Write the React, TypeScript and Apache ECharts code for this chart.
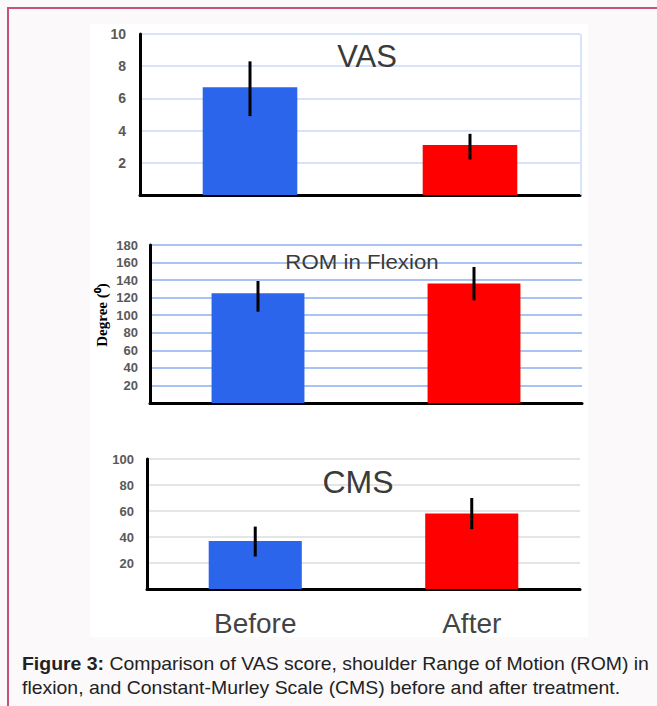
import React, { useEffect, useRef } from "react";
import * as echarts from "echarts";

const categories = ["Before", "After"];

const vasMean = [6.7, 3.1];
const vasLow = [4.9, 2.2];
const vasHigh = [8.3, 3.8];
const vasTicks = ["2", "4", "6", "8", "10"];

const romMean = [125, 136];
const romLow = [104, 117];
const romHigh = [139, 155];
const romTicks = ["20", "40", "60", "80", "100", "120", "140", "160", "180"];

const cmsMean = [37, 58];
const cmsLow = [25, 46];
const cmsHigh = [48, 70];
const cmsTicks = ["20", "40", "60", "80", "100"];

const barColors = ["#2b65ec", "#ff0000"];

const captionLine1Bold = "Figure 3:";
const captionLine1 = " Comparison of VAS score, shoulder Range of Motion (ROM) in";
const captionLine2 = "flexion, and Constant-Murley Scale (CMS) before and after treatment.";

export default function App() {
  const ref = useRef<HTMLDivElement>(null);
  useEffect(() => {
    if (!ref.current) return;
    const chart = echarts.init(ref.current, null, { renderer: "svg" });

    const grids = [
      { left: 140, right: 77, top: 34, bottom: 511 },
      { left: 150, right: 75, top: 245, bottom: 303 },
      { left: 147, right: 77, top: 459, bottom: 117 },
    ];

    const axisFont = "Liberation Sans, Arial, sans-serif";

    const mkX = (gi: number, showLabel: boolean) => ({
      type: "category",
      gridIndex: gi,
      data: categories,
      axisLine: { show: true, lineStyle: { color: "#000", width: 3 } },
      axisTick: { show: false },
      axisLabel: {
        show: showLabel,
        margin: 20,
        fontSize: 28,
        color: "#444",
        fontFamily: axisFont,
      },
    });

    const mkY = (gi: number, max: number, interval: number, ticks: string[], grid: string, gw: number, labelMargin: number, fs: number) => ({
      type: "value",
      gridIndex: gi,
      min: 0,
      max,
      interval,
      axisLine: { show: true, lineStyle: { color: "#000", width: 3 } },
      axisTick: { show: false },
      axisLabel: {
        margin: labelMargin,
        fontSize: fs,
        fontWeight: "bold",
        color: "#595959",
        fontFamily: axisFont,
        formatter: (v: number) => (ticks.includes(String(v)) ? String(v) : ""),
      },
      splitLine: { show: true, lineStyle: { color: grid, width: gw } },
    });

    const errSeries = (gi: number, low: number[], high: number[]) => ({
      type: "custom",
      xAxisIndex: gi,
      yAxisIndex: gi,
      data: low.map((l, i) => [i, l, high[i]]),
      renderItem: (params: any, api: any) => {
        const p1 = api.coord([api.value(0), api.value(1)]);
        const p2 = api.coord([api.value(0), api.value(2)]);
        return {
          type: "line",
          shape: { x1: p1[0], y1: p1[1], x2: p2[0], y2: p2[1] },
          style: { stroke: "#000", lineWidth: 3 },
        };
      },
      z: 5,
    });

    const barSeries = (gi: number, vals: number[]) => ({
      type: "bar",
      xAxisIndex: gi,
      yAxisIndex: gi,
      barWidth: "43%",
      data: vals.map((v, i) => ({ value: v, itemStyle: { color: barColors[i] } })),
    });

    const titleStyle = (text: string, fs: number) => ({
      text,
      fontSize: fs,
      fill: "#3a3a3a",
      align: "center",
      verticalAlign: "middle",
      fontFamily: axisFont,
    });

    const option: any = {
      animation: false,
      backgroundColor: "#fbf9fa",
      grid: grids,
      xAxis: [mkX(0, false), mkX(1, false), mkX(2, true)],
      yAxis: [
        mkY(0, 10, 2, vasTicks, "#c9daf8", 1.5, 14, 14),
        mkY(1, 180, 20, romTicks, "#a9c4f2", 2, 12, 13),
        mkY(2, 100, 20, cmsTicks, "#dcdcdc", 1.5, 13, 13),
      ],
      series: [
        barSeries(0, vasMean),
        errSeries(0, vasLow, vasHigh),
        barSeries(1, romMean),
        errSeries(1, romLow, romHigh),
        barSeries(2, cmsMean),
        errSeries(2, cmsLow, cmsHigh),
      ],
      graphic: [
        { type: "rect", z: -10, shape: { x: 90, y: 24, width: 498, height: 613 }, style: { fill: "#ffffff" }, silent: true },
        { type: "line", z: 1, shape: { x1: 581, y1: 34, x2: 581, y2: 195 }, style: { stroke: "#c9daf8", lineWidth: 1.5 } },
        { type: "line", shape: { x1: 8, y1: 8, x2: 8, y2: 706 }, style: { stroke: "#c75278", lineWidth: 2 } },
        { type: "line", shape: { x1: 7, y1: 8, x2: 657, y2: 8 }, style: { stroke: "#c75278", lineWidth: 2 } },
        { type: "text", z: 100, x: 367, y: 56, style: titleStyle("VAS", 31) },
        { type: "text", z: 100, x: 362, y: 262, scaleX: 1.06, style: titleStyle("ROM in Flexion", 21) },
        { type: "text", z: 100, x: 358, y: 482, style: titleStyle("CMS", 32) },
        {
          type: "text",
          z: 100,
          x: 102,
          y: 315,
          rotation: Math.PI / 2,
          style: {
            text: "Degree (⁰)",
            fontSize: 15,
            fontWeight: "bold",
            fill: "#000",
            align: "center",
            verticalAlign: "middle",
            fontFamily: "Liberation Serif, Times New Roman, serif",
          },
        },
        {
          type: "text",
          z: 100,
          x: 22,
          y: 664,
          scaleX: 1.08,
          style: {
            text: "{b|" + captionLine1Bold + "}" + captionLine1,
            fontSize: 18,
            fill: "#222",
            verticalAlign: "middle",
            fontFamily: axisFont,
            rich: { b: { fontWeight: "bold", fontSize: 18, fill: "#222", fontFamily: axisFont } },
          },
        },
        {
          type: "text",
          z: 100,
          x: 22,
          y: 688,
          scaleX: 1.08,
          style: { text: captionLine2, fontSize: 18, fill: "#222", verticalAlign: "middle", fontFamily: axisFont },
        },
      ],
    };
    chart.setOption(option);
    return () => chart.dispose();
  }, []);
  return <div ref={ref} style={{ position: "fixed", left: 0, top: 0, width: 657, height: 706 }} />;
}
